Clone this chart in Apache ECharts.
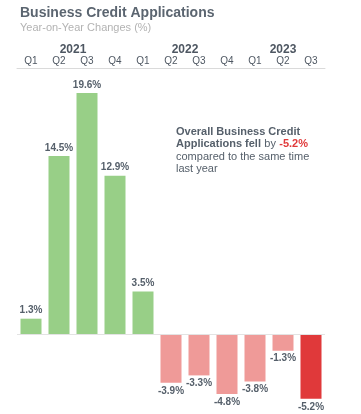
<!DOCTYPE html>
<html><head><meta charset="utf-8">
<script src="https://cdn.jsdelivr.net/npm/echarts@6/dist/echarts.min.js"></script>
<style>html,body{margin:0;padding:0;background:#fff}#c{width:361px;height:414px}</style>
</head><body><div id="c"></div>
<script>
const quarters = ['Q1','Q2','Q3','Q4','Q1','Q2','Q3','Q4','Q1','Q2','Q3'];
const values = [1.3, 14.5, 19.6, 12.9, 3.5, -3.9, -3.3, -4.8, -3.8, -1.3, -5.2];
const years = ['2021','2022','2023'];
const yearPositions = [1.5, 5.5, 9];

const FONT = 'Liberation Sans, Arial, sans-serif';
const green = '#98CF87', pink = '#EF9A98', red = '#E0393A';

const chart = echarts.init(document.getElementById('c'), null, {renderer:'canvas'});
chart.setOption({
  animation:false,
  textStyle:{fontFamily:FONT},
  title:{
    text:'Business Credit Applications',
    subtext:'Year-on-Year Changes (%)',
    left:15, top:1, itemGap:2,
    textStyle:{fontSize:14, fontWeight:'bold', color:'#5B6570', fontFamily:FONT},
    subtextStyle:{fontSize:11, color:'#B3B3B3', fontFamily:FONT}
  },
  grid:{left:17, right:36, top:68, bottom:5.3, containLabel:false},
  xAxis:[
    {type:'category', data:quarters, position:'top',
     axisLine:{show:true, onZero:false, lineStyle:{color:'#DADADA', width:1}},
     axisTick:{show:false},
     axisLabel:{color:'#4E5762', fontSize:10, margin:2, fontFamily:FONT}},
    {type:'value', min:-0.5, max:10.5, position:'top', offset:9,
     axisLine:{show:false}, axisTick:{show:false}, splitLine:{show:false},
     axisLabel:{customValues:yearPositions, color:'#4E5762', fontSize:12, fontWeight:'bold', margin:3, fontFamily:FONT,
       formatter:(v)=>{const i=yearPositions.indexOf(v);return i>=0?years[i]:'';}}}
  ],
  yAxis:{type:'value', min:-6, max:21.63, show:false, splitLine:{show:false}},
  series:[{
    type:'bar', xAxisIndex:0, barWidth:21,
    data: values.map((v,i)=>({value:v, itemStyle:{color: v>=0?green:(i===values.length-1?red:pink)}})),
    label:{show:true, position:'outside', formatter:(p)=>p.value.toFixed(1)+'%',
      color:'#56606B', fontSize:10, fontWeight:'bold', distance:3, fontFamily:FONT},
    markLine:{silent:true, symbol:'none', label:{show:false},
      lineStyle:{color:'#E3E3E3', width:1, type:'solid'},
      data:[{yAxis:0}]}
  }],
  graphic:[{
    type:'text', left:176, top:126,
    style:{
      text:'{b|Overall Business Credit}\n{b|Applications fell} {n|by} {r|-5.2%}\n{n|compared to the same time}\n{n|last year}',
      rich:{
        b:{fontSize:11, fontWeight:'bold', fill:'#56606B', fontFamily:FONT, lineHeight:12.5},
        n:{fontSize:11, fill:'#56606B', fontFamily:FONT, lineHeight:12.5},
        r:{fontSize:11, fontWeight:'bold', fill:'#E0393A', fontFamily:FONT, lineHeight:12.5}
      }
    }
  }]
});
</script></body></html>
